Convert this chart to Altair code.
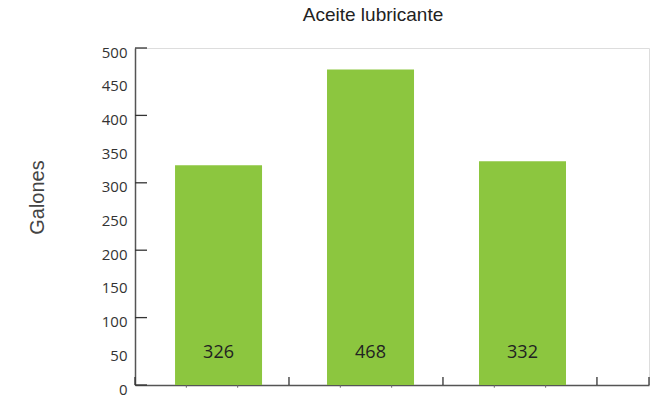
import altair as alt
import pandas as pd

# Gallons of lubricating oil per period
periods = [1, 2, 3]
gallons = [326, 468, 332]

y_label_values = [0, 50, 100, 150, 200, 250, 300, 350, 400, 450, 500]
y_major_ticks = [0, 100, 200, 300, 400, 500]

X_MAX = 3.338          # slots on the x axis (three bars plus a short tail)
BAR_FROM = 0.26        # left edge of the first bar within its slot
BAR_WIDTH = 0.565      # bar width in slot units
BAR_PITCH = 0.987      # distance between consecutive bars
LABEL_Y = 48           # where the value labels sit inside the bars

AXIS_COLOR = "#555555"
GREEN = "#8cc63f"

bars_df = pd.DataFrame({
    "period": periods,
    "gallons": gallons,
    "x0": [BAR_FROM + (p - 1) * BAR_PITCH for p in periods],
})
bars_df["x1"] = bars_df["x0"] + BAR_WIDTH
bars_df["xc"] = (bars_df["x0"] + bars_df["x1"]) / 2

x_scale = alt.Scale(domain=[0, X_MAX], nice=False, zero=False)
y_scale = alt.Scale(domain=[0, 500], nice=False)

# the same axis definitions are shared by every layer
x_axis = alt.Axis(labels=False, ticks=False, grid=False, title=None,
                  domainColor=AXIS_COLOR, domainWidth=1.5)
y_axis = alt.Axis(values=y_label_values, ticks=False, grid=False,
                  labelOverlap=False, labelOffset=4,
                  title="Galones", titleFont="Liberation Sans",
                  titleFontSize=20, titleFontWeight="normal",
                  titleColor="#444444", titleAngle=270,
                  titleAlign="center", titleBaseline="middle",
                  titleX=-98, titleY=149,
                  labelFont="Open Sans", labelFontSize=15, labelColor="#333333",
                  labelPadding=8, domainColor=AXIS_COLOR, domainWidth=1.5)

bars = alt.Chart(bars_df).mark_rect(color=GREEN).encode(
    x=alt.X("x0:Q", scale=x_scale, axis=x_axis),
    x2="x1:Q",
    y=alt.Y("gallons:Q", scale=y_scale, axis=y_axis),
    y2=alt.datum(0),
)

labels = alt.Chart(bars_df).mark_text(
    font="Open Sans", fontSize=18, color="#222222", baseline="middle"
).encode(
    x=alt.X("xc:Q", scale=x_scale, axis=x_axis),
    y=alt.Y(datum=LABEL_Y, scale=y_scale, axis=y_axis),
    text="gallons:Q",
)

# inward ticks on the y axis
ytick_df = pd.DataFrame({"v": y_major_ticks})
y_ticks = alt.Chart(ytick_df).mark_rule(color="#333333", strokeWidth=1.3).encode(
    y=alt.Y("v:Q", scale=y_scale, axis=y_axis),
    x=alt.X(datum=0, scale=x_scale, axis=x_axis),
    x2=alt.datum(0.078),
)

# upward ticks at slot boundaries on the x axis
xtick_df = pd.DataFrame({"v": [0, 1, 2, 3, X_MAX]})
x_ticks = alt.Chart(xtick_df).mark_rule(color="#333333", strokeWidth=1.3).encode(
    x=alt.X("v:Q", scale=x_scale, axis=x_axis),
    y=alt.Y(datum=0, scale=y_scale, axis=y_axis),
    y2=alt.datum(12),
)

# small minor ticks below the x axis
minor = [i + f for i in range(3) for f in (1 / 3, 2 / 3)]
xminor_df = pd.DataFrame({"v": minor})
x_minor = alt.Chart(xminor_df).mark_rule(color="#666666", strokeWidth=1).encode(
    x=alt.X("v:Q", scale=x_scale, axis=x_axis),
    y=alt.Y(datum=0, scale=y_scale, axis=y_axis),
    y2=alt.datum(-4),
)

chart = alt.layer(bars, labels, y_ticks, x_ticks, x_minor).properties(
    width=514,
    height=337,
    title=alt.TitleParams("Aceite lubricante", font="Liberation Sans",
                          fontSize=19, fontWeight="normal", color="#222222",
                          anchor="middle", dx=-19, offset=20),
    autosize=alt.AutoSizeParams(type="none"),
    padding={"left": 135, "top": 48, "right": 11, "bottom": 10},
).configure_view(stroke=None).configure(background="white")

chart.save("out.html", embed_options={"renderer": "svg", "actions": False})
